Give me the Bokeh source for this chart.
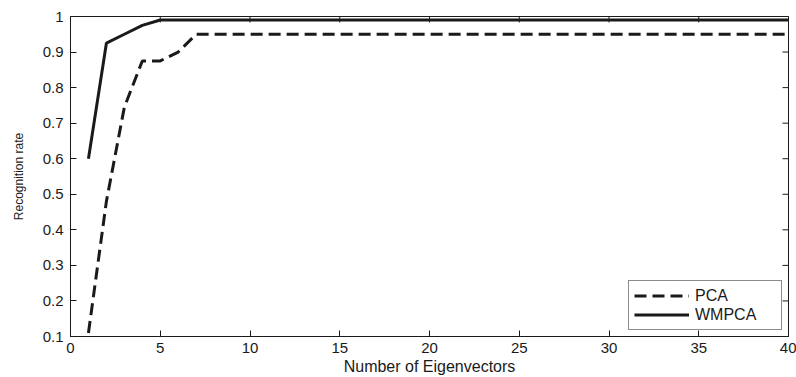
import math
from bokeh.plotting import figure
from bokeh.models import FixedTicker, Legend, LegendItem, Range1d
from bokeh.embed import file_html
from bokeh.resources import INLINE

# ---- data ----
pca_x = [1, 2, 3, 4, 5, 6, 7, 40]
pca_y = [0.11, 0.48, 0.745, 0.875, 0.875, 0.90, 0.95, 0.95]
wmpca_x = [1, 2, 3, 4, 5, 40]
wmpca_y = [0.60, 0.925, 0.95, 0.975, 0.99, 0.99]

x_ticks = [0, 5, 10, 15, 20, 25, 30, 35, 40]
y_ticks = [0.1, 0.2, 0.3, 0.4, 0.5, 0.6, 0.7, 0.8, 0.9, 1.0]
y_tick_labels = ["0.1", "0.2", "0.3", "0.4", "0.5", "0.6", "0.7", "0.8", "0.9", "1"]

FONT = "Liberation Sans"
INK = "#1a1a1a"

p = figure(width=796, height=377, output_backend="svg", toolbar_location=None,
           x_range=Range1d(0, 40), y_range=Range1d(0.1, 1.0),
           x_axis_label="Number of Eigenvectors", y_axis_label="Recognition rate",
           min_border_left=70, min_border_right=8, min_border_top=16, min_border_bottom=0)
p.xgrid.visible = False
p.ygrid.visible = False
p.outline_line_color = INK
p.outline_line_width = 1
p.background_fill_color = "white"
p.border_fill_color = "white"

def style_axis(ax, ticks):
    ax.ticker = FixedTicker(ticks=ticks)
    ax.major_tick_in = 6
    ax.major_tick_out = 0
    ax.minor_tick_line_color = None
    ax.major_tick_line_color = INK
    ax.axis_line_color = INK
    ax.major_label_text_font = FONT
    ax.major_label_text_color = INK
    ax.axis_label_text_font = FONT
    ax.axis_label_text_font_style = "normal"
    ax.axis_label_text_color = INK

xa = p.xaxis[0]
style_axis(xa, x_ticks)
xa.major_label_text_font_size = "15px"
xa.major_label_standoff = 6
xa.axis_label_text_font_size = "16px"
xa.axis_label_standoff = 2

ya = p.yaxis[0]
style_axis(ya, y_ticks)
ya.major_label_text_font_size = "15px"
ya.major_label_standoff = 7
ya.axis_label_text_font_size = "12px"
ya.axis_label_standoff = 14
ya.major_label_overrides = {t: s for t, s in zip(y_ticks, y_tick_labels)}

# mirrored inward ticks on the top and right edges
p.ray(x=x_ticks, y=[p.y_range.end] * len(x_ticks), length=6, length_units="screen",
      angle=-math.pi / 2, line_color=INK, line_width=1)
p.ray(x=[p.x_range.end] * len(y_ticks), y=y_ticks, length=6, length_units="screen",
      angle=math.pi, line_color=INK, line_width=1)

r_pca = p.line(pca_x, pca_y, line_color=INK, line_width=3, line_dash="12 6")
r_wm = p.line(wmpca_x, wmpca_y, line_color=INK, line_width=3)

legend = Legend(items=[LegendItem(label="PCA", renderers=[r_pca]),
                       LegendItem(label="WMPCA", renderers=[r_wm])],
                location="bottom_right")
legend.margin = 6
legend.padding = 5
legend.spacing = 0
legend.glyph_width = 55
legend.glyph_height = 19
legend.label_height = 19
legend.label_width = 81
legend.label_standoff = 6
legend.label_text_font = FONT
legend.label_text_font_size = "16px"
legend.label_text_color = INK
legend.border_line_color = INK
legend.border_line_width = 1
legend.background_fill_color = "white"
legend.background_fill_alpha = 1
p.add_layout(legend, "center")

open("out.html", "w").write(file_html(p, INLINE))
